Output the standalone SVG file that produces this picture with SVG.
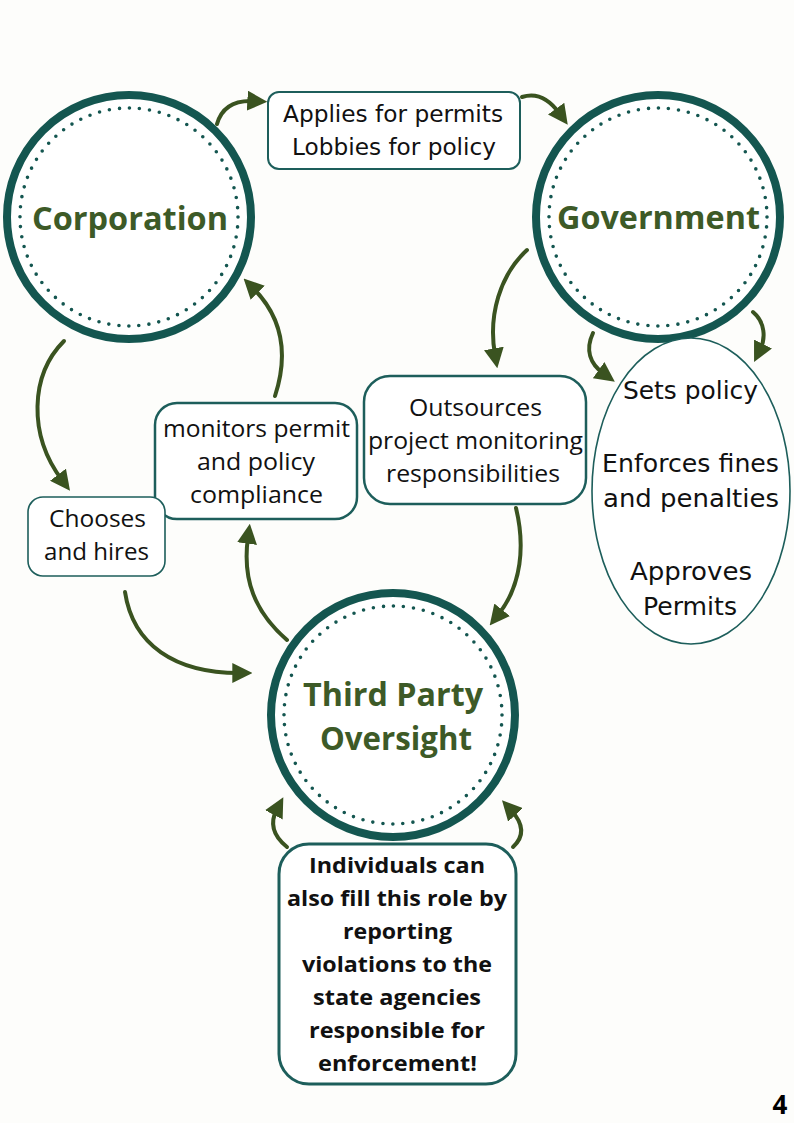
<svg xmlns="http://www.w3.org/2000/svg" width="794" height="1123" viewBox="0 0 794 1123">
<style>
.ring{fill:#ffffff;stroke:#145650;stroke-width:8}
.dots{fill:none;stroke:#145650;stroke-width:3.6;stroke-linecap:round;stroke-dasharray:0 10.07}
.title{font-family:"Open Sans","Lato",sans-serif;font-weight:700;fill:#3d5a27;text-anchor:middle}
.box{fill:#ffffff;stroke:#1d5e5b}
.lbl{font-family:"Open Sans","Noto Sans",sans-serif;font-size:24.5px;fill:#111111;text-anchor:middle}
.geo{font-family:"DejaVu Sans","Noto Sans",sans-serif;fill:#111111;text-anchor:middle}
.bold{font-family:"Open Sans","Lato",sans-serif;font-weight:700;font-size:21px;fill:#111111;text-anchor:middle}
.arr{fill:none;stroke:#3a5320;stroke-width:4;stroke-linecap:round;marker-end:url(#ah)}
</style>
<defs>
<marker id="ah" markerUnits="userSpaceOnUse" markerWidth="20" markerHeight="20" viewBox="0 0 18 18" refX="6" refY="9" orient="auto">
<path d="M0,0 L18,9 L0,18 z" fill="#3a5320"/>
</marker>
</defs>
<rect width="794" height="1123" fill="#fdfdfb"/>

<g id="connectors">
<path class="arr" d="M217,124 C222,106 236,100 254,101"/>
<path class="arr" d="M522,97 C537,92 550,100 560,114"/>
<path class="arr" d="M527,250 C500,275 488,315 495,355"/>
<path class="arr" d="M593,333 C585,350 590,364 604,374"/>
<path class="arr" d="M753,312 C765,322 766,338 760,350"/>
<path class="arr" d="M516,508 C525,545 522,585 498,615"/>
<path class="arr" d="M64,341 C30,375 28,435 62,480"/>
<path class="arr" d="M125,592 C133,645 175,673 239,673"/>
<path class="arr" d="M287,640 C255,612 242,580 248,537"/>
<path class="arr" d="M275,396 C290,350 280,315 253,288"/>
<path class="arr" d="M287,847 C272,835 270,822 277,809"/>
<path class="arr" d="M513,847 C526,835 522,822 511,810"/>
</g>

<g id="corporation">
<circle class="ring" cx="129" cy="217" r="122"/>
<circle class="dots" cx="129" cy="217" r="109"/>
<text class="title" x="130" y="230" font-size="33" textLength="196" lengthAdjust="spacingAndGlyphs">Corporation</text>
</g>

<g id="government">
<circle class="ring" cx="658" cy="217" r="122"/>
<circle class="dots" cx="658" cy="217" r="109"/>
<text class="title" x="658.5" y="229" font-size="33" textLength="203" lengthAdjust="spacingAndGlyphs">Government</text>
</g>

<g id="third-party">
<circle class="ring" cx="393" cy="715" r="122"/>
<circle class="dots" cx="393" cy="715" r="109"/>
<text class="title" x="393" y="706" font-size="32" textLength="180" lengthAdjust="spacingAndGlyphs">Third Party</text>
<text class="title" x="396" y="750" font-size="32" textLength="152" lengthAdjust="spacingAndGlyphs">Oversight</text>
</g>

<g id="applies">
<rect class="box" x="268" y="92" width="252" height="77" rx="11" stroke-width="2"/>
<text class="geo" x="393" y="122" font-size="23" textLength="220" lengthAdjust="spacingAndGlyphs">Applies for permits</text>
<text class="geo" x="394" y="155" font-size="23" textLength="204" lengthAdjust="spacingAndGlyphs">Lobbies for policy</text>
</g>

<g id="sets-policy">
<ellipse class="box" cx="691" cy="491" rx="99" ry="153" stroke-width="1.6"/>
<text class="geo" x="690.5" y="399" font-size="25" textLength="135" lengthAdjust="spacingAndGlyphs">Sets policy</text>
<text class="geo" x="690.5" y="472" font-size="25" textLength="177" lengthAdjust="spacingAndGlyphs">Enforces fines</text>
<text class="geo" x="691" y="507" font-size="25" textLength="176" lengthAdjust="spacingAndGlyphs">and penalties</text>
<text class="geo" x="691" y="580" font-size="25" textLength="122" lengthAdjust="spacingAndGlyphs">Approves</text>
<text class="geo" x="690" y="615" font-size="25" textLength="94" lengthAdjust="spacingAndGlyphs">Permits</text>
</g>

<g id="outsources">
<rect class="box" x="364" y="376" width="222" height="128" rx="26" stroke-width="2.5"/>
<text class="lbl" x="475.5" y="416" textLength="133" lengthAdjust="spacingAndGlyphs">Outsources</text>
<text class="lbl" x="475.5" y="449" textLength="215" lengthAdjust="spacingAndGlyphs">project monitoring</text>
<text class="lbl" x="473" y="482" textLength="174" lengthAdjust="spacingAndGlyphs">responsibilities</text>
</g>

<g id="monitors">
<rect class="box" x="155" y="403" width="202" height="116" rx="22" stroke-width="2.5"/>
<text class="lbl" x="256.5" y="437" textLength="187" lengthAdjust="spacingAndGlyphs">monitors permit</text>
<text class="lbl" x="256" y="470" textLength="118" lengthAdjust="spacingAndGlyphs">and policy</text>
<text class="lbl" x="256.5" y="503" textLength="133" lengthAdjust="spacingAndGlyphs">compliance</text>
</g>

<g id="chooses">
<rect class="box" x="28" y="497" width="137" height="79" rx="15" stroke-width="1.6"/>
<text class="lbl" x="97.5" y="527" textLength="97" lengthAdjust="spacingAndGlyphs">Chooses</text>
<text class="lbl" x="96.5" y="560" textLength="105" lengthAdjust="spacingAndGlyphs">and hires</text>
</g>

<g id="individuals">
<rect class="box" x="279" y="844" width="237" height="240" rx="30" stroke-width="3"/>
<text class="bold" x="397" y="873" textLength="176" lengthAdjust="spacingAndGlyphs">Individuals can</text>
<text class="bold" x="397" y="906" textLength="220" lengthAdjust="spacingAndGlyphs">also fill this role by</text>
<text class="bold" x="397.5" y="939" textLength="109" lengthAdjust="spacingAndGlyphs">reporting</text>
<text class="bold" x="397" y="972" textLength="190" lengthAdjust="spacingAndGlyphs">violations to the</text>
<text class="bold" x="397" y="1005" textLength="168" lengthAdjust="spacingAndGlyphs">state agencies</text>
<text class="bold" x="397" y="1038" textLength="176" lengthAdjust="spacingAndGlyphs">responsible for</text>
<text class="bold" x="397.5" y="1071" textLength="159" lengthAdjust="spacingAndGlyphs">enforcement!</text>
</g>

<text x="780" y="1114" font-family="'Open Sans', Lato, sans-serif" font-weight="700" font-size="26" fill="#000000" text-anchor="middle">4</text>
</svg>
